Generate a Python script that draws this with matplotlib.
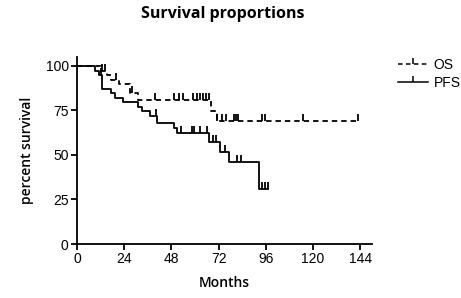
import numpy as np
import matplotlib
matplotlib.use("Agg")
import matplotlib.pyplot as plt
from matplotlib.path import Path
from matplotlib.lines import Line2D

# ---- data ----
os_times = [0, 12, 15, 17.5, 21.5, 27, 31, 68, 71, 144]
os_surv = [100, 97.4, 94.9, 92.3, 89.7, 84.6, 81.0, 74.5, 69.2, 69.2]
os_censor = [12.5, 14, 20, 28, 39.5, 49.5, 52, 54, 59, 61, 62.5, 64, 65.5, 67,
             71, 73.5, 76, 80, 81, 82, 94, 95.5, 115, 143]

pfs_times = [0, 9, 11, 12.5, 17.5, 19.5, 23.5, 31, 33, 37, 40.5, 49.5, 51, 67,
             72.5, 77.5, 92.5, 97]
pfs_surv = [100, 97.4, 94.9, 87.2, 84.6, 82.0, 79.5, 76.9, 74.4, 71.8, 68.0,
            64.9, 62.3, 57.1, 51.9, 46.2, 31.0, 31.0]
pfs_censor = [12, 40, 53, 58.5, 59.5, 62.5, 66, 69, 70.5, 75, 81.5, 83.5,
              94, 95.5, 97]

x_ticks = [0, 24, 48, 72, 96, 120, 144]
y_ticks = [0, 25, 50, 75, 100]
series_names = ["OS", "PFS"]

TICKFONT = "Liberation Sans"
LABELFONT = "Open Sans"

fig = plt.figure(figsize=(4.61, 2.98), dpi=100)
ax = fig.add_axes([77 / 461, 54 / 298, 295 / 461, 187 / 298])

up_tick = Path([(0, 0), (0, 1)], [Path.MOVETO, Path.LINETO])


def step_value(times, surv, t):
    idx = np.searchsorted(times, t, side="right") - 1
    return surv[max(idx, 0)]


ls_list = [(0, (3.0, 2.2)), "-"]
for name, times, surv, cens, ls in [
    (series_names[0], os_times, os_surv, os_censor, ls_list[0]),
    (series_names[1], pfs_times, pfs_surv, pfs_censor, ls_list[1]),
]:
    ax.step(times, surv, where="post", color="black", lw=1.3, linestyle=ls)
    cy = [step_value(times, surv, t) for t in cens]
    ax.plot(cens, cy, linestyle="none", marker=up_tick, markersize=10,
            markeredgewidth=1.3, color="black")

ax.set_xlim(0, 150)
ax.set_ylim(0, 105)
ax.set_xticks(x_ticks)
ax.set_yticks(y_ticks)
ax.set_yticklabels([str(v) for v in y_ticks], fontfamily=TICKFONT, fontsize=10)
ax.set_xticklabels([str(v) for v in x_ticks], fontfamily=TICKFONT, fontsize=10)
for s in ["top", "right"]:
    ax.spines[s].set_visible(False)
for s in ["left", "bottom"]:
    ax.spines[s].set_linewidth(1.3)
ax.tick_params(direction="out", length=4, width=1.3, pad=2)

ax.set_xlabel("Months", fontfamily=LABELFONT, fontsize=10, fontweight="semibold",
              labelpad=7)
ax.set_ylabel("percent survival", fontfamily=LABELFONT, fontsize=10,
              fontweight="semibold", labelpad=8)
fig.text(0.483, 0.952, "Survival proportions", ha="center", va="center",
         fontfamily=LABELFONT, fontsize=11.5, fontweight="bold")

handles = [
    Line2D([0], [0], color="black", lw=1.1, linestyle=ls_list[0], marker=up_tick,
           markersize=9, markeredgewidth=1.1),
    Line2D([0], [0], color="black", lw=1.1, linestyle=ls_list[1], marker=up_tick,
           markersize=9, markeredgewidth=1.1),
]
leg = fig.legend(handles, series_names, loc="upper left",
                 bbox_to_anchor=(385 / 461, 1 - 45 / 298), frameon=False,
                 handlelength=2.2, handletextpad=0.4, labelspacing=0.3,
                 prop={"family": TICKFONT, "size": 10})

fig.savefig("out.png", dpi=100)
